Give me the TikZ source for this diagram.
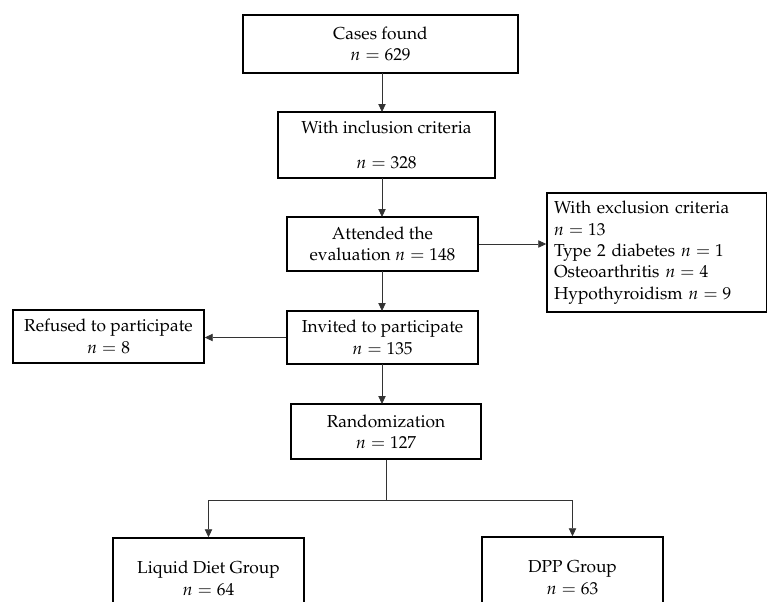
\documentclass[tikz,border=0pt]{standalone}
\usepackage[T1]{fontenc}
\usepackage{mathpazo}
\usepackage{tikz}
\usetikzlibrary{arrows.meta}

\tikzset{
  box/.style={draw=black, line width=1.1pt, align=center, inner sep=0pt,
              font=\fontsize{13}{16}\selectfont},
  link/.style={draw=black!80, line width=0.6pt}
}

\begin{document}
\begin{tikzpicture}[x=0.75pt, y=-0.75pt, >={Triangle[length=6pt,width=5.5pt]}]
\useasboundingbox (0,0) rectangle (767,601);
% boxes
\node[box, minimum width=206.25pt, minimum height=43.5pt] (cases) at (380.5,44)
  {Cases found\\ $n = 629$};
\node[box, minimum width=162.75pt, minimum height=49.5pt] (incl) at (386.5,145)
  {With inclusion criteria\\[10pt] $n = 328$};
\node[box, minimum width=143.25pt, minimum height=40.5pt] (attended) at (382.5,244)
  {Attended the\\ evaluation $n = 148$};
\node[box, align=left, text width=154.5pt, inner xsep=5.25pt, minimum height=89.25pt] (excl) at (657,252.5)
  {With exclusion criteria\\ $n = 13$\\ Type 2 diabetes $n = 1$\\ Osteoarthritis $n = 4$\\ Hypothyroidism $n = 9$};
\node[box, minimum width=143.25pt, minimum height=39.75pt] (refused) at (108.5,336.5)
  {Refused to participate\\ $n = 8$};
\node[box, minimum width=143.25pt, minimum height=39.75pt] (invited) at (382.5,337.5)
  {Invited to participate\\ $n = 135$};
\node[box, minimum width=142.5pt, minimum height=41.25pt] (random) at (386,431.5)
  {Randomization\\ $n = 127$};
\node[box, minimum width=143.25pt, minimum height=60.75pt] (liquid) at (208.5,578.5)
  {Liquid Diet Group\\ $n = 64$};
\node[box, minimum width=135.75pt, minimum height=60.75pt] (dpp) at (572.5,577.5)
  {DPP Group\\ $n = 63$};
\coordinate (split) at (386,500);

% connectors
\draw[link,->] (382,73) -- (382,112);
\draw[link,->] (382,178) -- (382,217);
\draw[link,->] (attended.east) -- (attended.east -| excl.west);
\draw[link,->] (382,271) -- (382,311);
\draw[link,->] (invited.west) -- (invited.west -| refused.east);
\draw[link,->] (382,364) -- (382,404);
\draw[link] (random.south -| split) -- (split);
\draw[link,->] (split) -| (liquid.north);
\draw[link,->] (split) -| (dpp.north);
\end{tikzpicture}
\end{document}
